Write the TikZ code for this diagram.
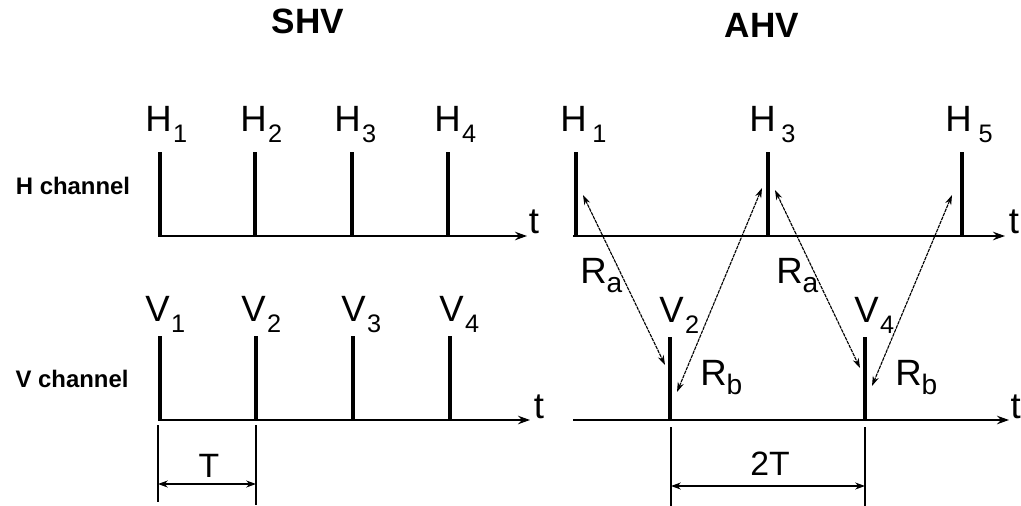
\documentclass[tikz,border=0pt]{standalone}
\usepackage{fontspec}
\setmainfont{Liberation Sans}
\usetikzlibrary{arrows.meta}
\newcommand{\pulsesub}[1]{\kern1pt\raisebox{-8.5pt}{\fontsize{18}{18}\selectfont #1}}
\newcommand{\raysub}[1]{\raisebox{-7pt}{\fontsize{20}{20}\selectfont #1}}

\begin{document}
\begin{tikzpicture}[
    x=0.025cm,y=-0.025cm,
    title/.style={font=\fontsize{25}{25}\selectfont\bfseries,inner sep=0pt},
    chan/.style={font=\fontsize{17}{17}\selectfont\bfseries,inner sep=0pt},
    lbl/.style={font=\fontsize{26}{26}\selectfont,inner sep=0pt,anchor=base west},
    tlbl/.style={font=\fontsize{26}{26}\selectfont,inner sep=0pt},
    dimlbl/.style={font=\fontsize{24}{24}\selectfont,inner sep=0pt},
    pulse/.style={line width=3.5pt},
    axis/.style={line width=1.4pt,-{Stealth[length=8.5pt,width=6pt]}},
    dimline/.style={line width=0.9pt},
    dimar/.style={line width=0.9pt,{Stealth[length=7pt,width=5pt]}-{Stealth[length=7pt,width=5pt]}},
    ray/.style={line width=0.8pt,dash pattern=on 2.5pt off 0.6pt,
                {Stealth[length=7pt,width=4.5pt]}-{Stealth[length=7pt,width=4.5pt]}}
  ]
  \useasboundingbox (0,0) rectangle (1021,506);

  % titles and channel names
  \node[title] (shv) at (308,21) {SHV};
  \node[title] (ahv) at (762,25) {AHV};
  \node[chan] (hch) at (73,186) {H channel};
  \node[chan] (vch) at (72,379) {V channel};

  % SHV: axes
  \coordinate (sh0) at (158,236);
  \coordinate (sh1) at (527,236);
  \coordinate (sv0) at (158,420);
  \coordinate (sv1) at (530,420);
  \draw[axis] (sh0) -- (sh1);
  \draw[axis] (sv0) -- (sv1);
  \node[tlbl] (sht) at (534,222) {t};
  \node[tlbl] (svt) at (539,407) {t};

  % SHV: pulses
  \draw[pulse] (160,152) -- (160,236);
  \draw[pulse] (255,152) -- (255,236);
  \draw[pulse] (352,152) -- (352,236);
  \draw[pulse] (448,152) -- (448,236);
  \draw[pulse] (160,336) -- (160,420);
  \draw[pulse] (256,336) -- (256,420);
  \draw[pulse] (353,336) -- (353,420);
  \draw[pulse] (450,336) -- (450,420);
  \node[lbl] (sh1l) at (145,131) {H\pulsesub{1}};
  \node[lbl] (sh2l) at (240,131) {H\pulsesub{2}};
  \node[lbl] (sh3l) at (334,131) {H\pulsesub{3}};
  \node[lbl] (sh4l) at (434,131) {H\pulsesub{4}};
  \node[lbl] (sv1l) at (145,321) {V\pulsesub{1}};
  \node[lbl] (sv2l) at (241,321) {V\pulsesub{2}};
  \node[lbl] (sv3l) at (341,321) {V\pulsesub{3}};
  \node[lbl] (sv4l) at (439,321) {V\pulsesub{4}};

  % SHV: period
  \coordinate (st0) at (158,484);
  \coordinate (st1) at (256,484);
  \draw[dimline] (158,425) -- (158,502);
  \draw[dimline] (256,425) -- (256,505);
  \draw[dimar] (st0) -- (st1);
  \node[dimlbl] (stl) at (209,466) {T};

  % AHV: axes
  \coordinate (ah0) at (573,236);
  \coordinate (ah1) at (1005,236);
  \coordinate (av0) at (573,420);
  \coordinate (av1) at (1009,420);
  \draw[axis] (ah0) -- (ah1);
  \draw[axis] (av0) -- (av1);
  \node[tlbl] (aht) at (1014,222) {t};
  \node[tlbl,anchor=east] (avt) at (1021,407) {t};

  % AHV: pulses
  \draw[pulse] (576,152) -- (576,236);
  \draw[pulse] (768,152) -- (768,236);
  \draw[pulse] (962,152) -- (962,236);
  \draw[pulse] (670,337) -- (670,420);
  \draw[pulse] (865,337) -- (865,420);
  \node[lbl] (ah1l) at (560,131) {H\kern3pt\pulsesub{1}};
  \node[lbl] (ah3l) at (749,131) {H\kern3pt\pulsesub{3}};
  \node[lbl] (ah5l) at (945,131) {H\kern4pt\pulsesub{5}};
  \node[lbl] (av2l) at (659,322) {V\pulsesub{2}};
  \node[lbl] (av4l) at (854,322) {V\pulsesub{4}};

  % AHV: reflections
  \coordinate (r1a) at (583,195);
  \coordinate (r1b) at (665,365);
  \coordinate (r2a) at (762,188);
  \coordinate (r2b) at (677,392);
  \coordinate (r3a) at (775,190);
  \coordinate (r3b) at (860,368);
  \coordinate (r4a) at (952,195);
  \coordinate (r4b) at (872,386);
  \draw[ray] (r1a) -- (r1b);
  \draw[ray] (r2a) -- (r2b);
  \draw[ray] (r3a) -- (r3b);
  \draw[ray] (r4a) -- (r4b);
  \node[lbl] (ra1) at (580,283) {R\raysub{a}};
  \node[lbl] (rb1) at (700,385) {R\raysub{b}};
  \node[lbl] (ra2) at (776,283) {R\raysub{a}};
  \node[lbl] (rb2) at (895,385) {R\raysub{b}};

  % AHV: period
  \coordinate (at0) at (671,486);
  \coordinate (at1) at (865,486);
  \draw[dimline] (671,427) -- (671,506);
  \draw[dimline] (865,427) -- (865,506);
  \draw[dimar] (at0) -- (at1);
  \node[dimlbl] (atl) at (770,464) {2T};
\end{tikzpicture}
\end{document}
